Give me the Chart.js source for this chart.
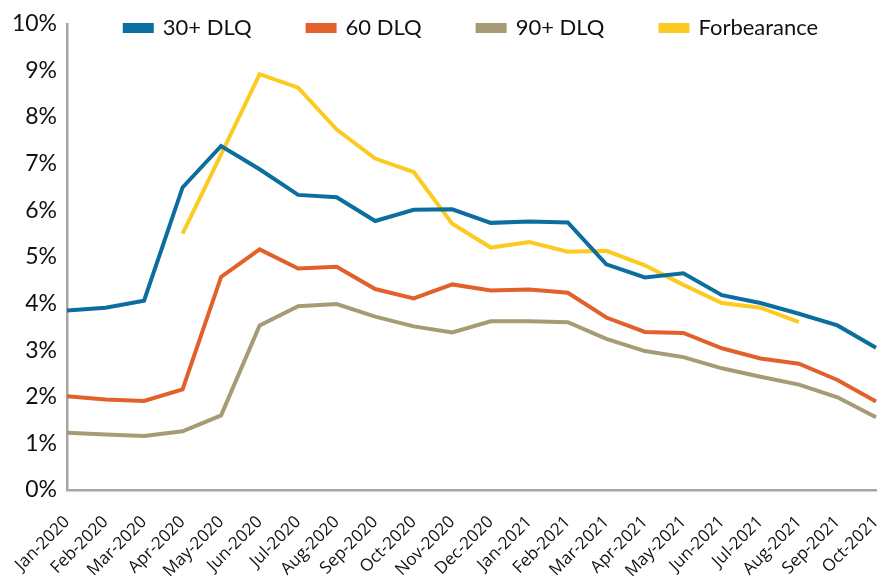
<!DOCTYPE html>
<html>
<head>
<meta charset="utf-8">
<script src="https://cdn.jsdelivr.net/npm/chart.js@4"></script>
<style>
  html, body { margin: 0; padding: 0; background: #ffffff; }
  #wrap { width: 877px; height: 580px; }
</style>
</head>
<body>
<div id="wrap"><canvas id="c" width="877" height="580"></canvas></div>
<script>
const categories = ["Jan-2020","Feb-2020","Mar-2020","Apr-2020","May-2020","Jun-2020","Jul-2020","Aug-2020","Sep-2020","Oct-2020","Nov-2020","Dec-2020","Jan-2021","Feb-2021","Mar-2021","Apr-2021","May-2021","Jun-2021","Jul-2021","Aug-2021","Sep-2021","Oct-2021"];
const dlq30 = [3.85, 3.91, 4.06, 6.49, 7.38, 6.88, 6.33, 6.28, 5.77, 6.01, 6.02, 5.73, 5.76, 5.74, 4.84, 4.56, 4.65, 4.18, 4.01, 3.78, 3.53, 3.05];
const dlq60 = [2.01, 1.94, 1.91, 2.16, 4.57, 5.16, 4.75, 4.79, 4.31, 4.11, 4.41, 4.28, 4.30, 4.23, 3.70, 3.39, 3.37, 3.04, 2.82, 2.71, 2.36, 1.90];
const dlq90 = [1.23, 1.19, 1.16, 1.26, 1.60, 3.53, 3.94, 3.99, 3.72, 3.51, 3.38, 3.62, 3.62, 3.60, 3.24, 2.98, 2.85, 2.61, 2.43, 2.26, 1.99, 1.56];
const forbearance = [null, null, null, 5.50, 7.20, 8.92, 8.63, 7.73, 7.11, 6.82, 5.71, 5.20, 5.32, 5.11, 5.13, 4.82, 4.40, 4.01, 3.91, 3.60, null, null];
const seriesNames = ["30+ DLQ", "60 DLQ", "90+ DLQ", "Forbearance"];
const yTicks = [0,1,2,3,4,5,6,7,8,9,10];

const colors = ["#0b6e9e", "#e2602a", "#a59b74", "#fccb22"];
const seriesData = [dlq30, dlq60, dlq90, forbearance];

const LEGEND_TOP = -39;
const legendShift = {
  id: 'legendShift',
  afterInit(chart) {
    const lg = chart.legend;
    if (lg && !lg._patched) {
      const origFit = lg.fit;
      lg.fit = function () { origFit.call(this); this.height = 0; };
      lg._patched = true;
    }
  },
  beforeDraw(chart) {
    const lg = chart.legend;
    if (lg) {
      lg.top = LEGEND_TOP;
      lg.bottom = LEGEND_TOP + 140;
      lg.height = 140;
    }
  }
};

const chart = new Chart(document.getElementById('c'), {
  type: 'line',
  data: {
    labels: categories,
    datasets: seriesData.map((d, i) => ({
      label: seriesNames[i],
      data: d,
      borderColor: colors[i],
      backgroundColor: colors[i],
      borderWidth: 4,
      pointRadius: 0,
      pointHoverRadius: 0,
      tension: 0,
      fill: false,
      spanGaps: false
    }))
  },
  options: {
    responsive: false,
    animation: false,
    layout: { padding: { top: 20, right: 1, bottom: 0, left: 0 } },
    plugins: {
      legend: {
        position: 'top',
        fullSize: false,
        align: 'center',
        labels: {
          boxWidth: 27,
          boxHeight: 6,
          padding: 56,
          color: '#111111',
          font: { family: 'Lato', size: 22 }
        }
      },
      tooltip: { enabled: false }
    },
    scales: {
      x: {
        offset: false,
        grid: { display: true, color: 'rgba(0,0,0,0)', drawTicks: false },
        border: { display: true, color: '#a6a6a6', width: 2.5 },
        ticks: {
          autoSkip: false,
          maxRotation: 45,
          minRotation: 45,
          padding: 22,
          color: '#111111',
          font: { family: 'Open Sans', size: 17 }
        },
        afterFit(scale) { scale.height = 90; scale.paddingLeft = 0; scale.paddingRight = 0; }
      },
      y: {
        min: 0,
        max: 10,
        grid: { display: true, color: 'rgba(0,0,0,0)', drawTicks: false },
        border: { display: true, color: '#a6a6a6', width: 2.5 },
        afterBuildTicks(scale) { scale.ticks = yTicks.map(v => ({ value: v })); },
        ticks: {
          padding: 10,
          color: '#111111',
          font: { family: 'Lato', size: 23 },
          callback: (v) => v + '%'
        },
        afterFit(scale) { scale.width = 67; }
      }
    }
  },
  plugins: [legendShift]
});
</script>
</body>
</html>
